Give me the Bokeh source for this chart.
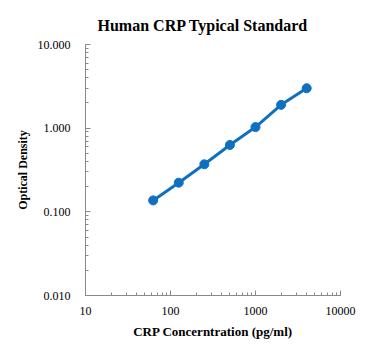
from bokeh.plotting import figure
from bokeh.embed import file_html
from bokeh.resources import INLINE
from bokeh.models import PrintfTickFormatter, LogTicker

conc = [62.5, 125, 250, 500, 1000, 2000, 4000]
od = [0.137, 0.223, 0.370, 0.630, 1.03, 1.90, 3.00]

FONT = "Liberation Serif"
BLUE = "#1070C0"

p = figure(width=373, height=354, x_axis_type="log", y_axis_type="log",
           x_range=(10, 10000), y_range=(0.01, 10),
           title="Human CRP Typical Standard",
           output_backend="svg", toolbar_location=None,
           min_border_left=85, min_border_right=33, min_border_top=44, min_border_bottom=59)
p.outline_line_color = None
p.xgrid.visible = False
p.ygrid.visible = False

p.title.text_font = FONT
p.title.text_font_size = "16px"
p.title.text_font_style = "bold"
p.title.text_color = "#000000"
p.title.align = "left"
p.title.offset = 12
p.title.standoff = 22

p.line(conc, od, line_color=BLUE, line_width=3)
p.scatter(conc, od, size=9, fill_color=BLUE, line_color=BLUE)

p.xaxis.ticker = LogTicker(num_minor_ticks=10)
p.yaxis.ticker = LogTicker(num_minor_ticks=10)
p.xaxis.formatter = PrintfTickFormatter(format="%d")
p.yaxis.formatter = PrintfTickFormatter(format="%.3f")

for ax in (p.xaxis[0], p.yaxis[0]):
    ax.axis_line_color = "#898989"
    ax.major_tick_line_color = "#898989"
    ax.minor_tick_line_color = "#898989"
    ax.major_tick_in = 5
    ax.major_tick_out = 0
    ax.minor_tick_in = 3
    ax.minor_tick_out = 0
    ax.major_label_text_font = FONT
    ax.major_label_text_font_size = "12px"
    ax.major_label_text_color = "#000000"
    ax.axis_label_text_font = FONT
    ax.axis_label_text_font_style = "bold"
    ax.axis_label_text_color = "#000000"

p.xaxis.axis_label = "CRP Concerntration (pg/ml)"
p.yaxis.axis_label = "Optical Density"
p.xaxis.axis_label_text_font_size = "13px"
p.yaxis.axis_label_text_font_size = "12px"
p.xaxis.major_label_standoff = 11
p.yaxis.major_label_standoff = 15
p.xaxis.axis_label_standoff = 6
p.yaxis.axis_label_standoff = 5

open("out.html", "w").write(file_html(p, INLINE))
